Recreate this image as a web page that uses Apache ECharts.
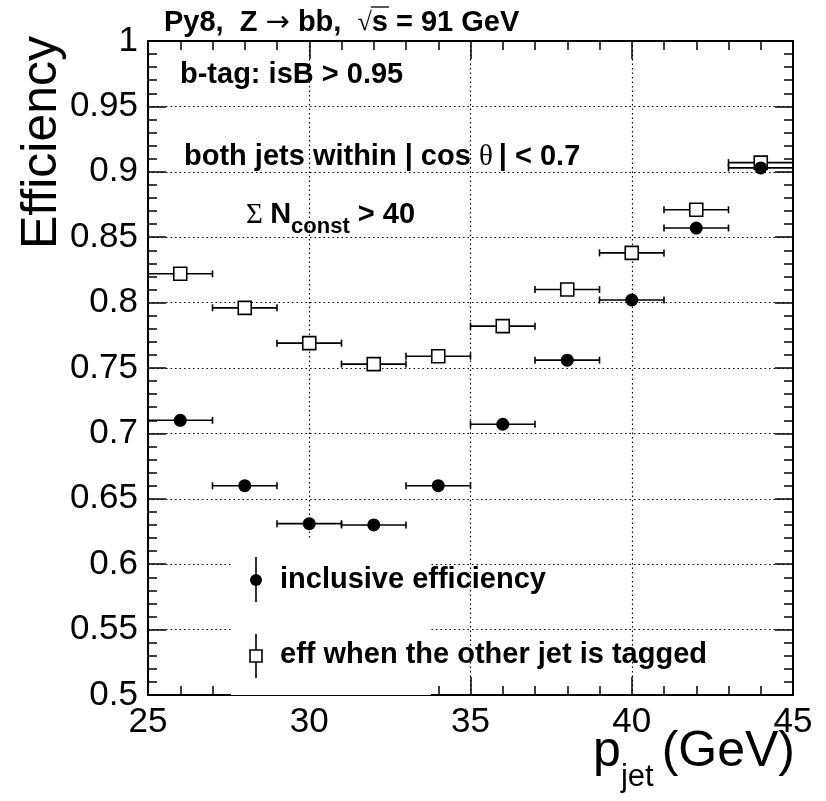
<!DOCTYPE html>
<html>
<head>
<meta charset="utf-8">
<script src="https://cdn.jsdelivr.net/npm/echarts@6/dist/echarts.min.js"></script>
<style>html,body{margin:0;padding:0;background:#fff}#chart{width:826px;height:801px}</style>
</head>
<body>
<div id="chart"></div>
<script>
// ---- data ----
const binCenters = [26, 28, 30, 32, 34, 36, 38, 40, 42, 44];
const binHalfWidth = [1, 1, 1, 1, 1, 1, 1, 1, 1, 1];
const inclusiveEff = [0.710, 0.660, 0.631, 0.630, 0.660, 0.707, 0.756, 0.802, 0.857, 0.903];
const otherTaggedEff = [0.822, 0.796, 0.769, 0.753, 0.759, 0.782, 0.810, 0.838, 0.871, 0.907];
const xTickLabels = ['25', '30', '35', '40', '45'];
const yTickLabels = ['0.5', '0.55', '0.6', '0.65', '0.7', '0.75', '0.8', '0.85', '0.9', '0.95', '1'];
const seriesNames = ['inclusive efficiency', 'eff when the other jet is tagged'];

const SANS = '"Liberation Sans", Arial, Helvetica, sans-serif';
const SERIF = '"Liberation Serif", "DejaVu Serif", serif';

const mctx = document.createElement('canvas').getContext('2d');
function tw(p) {
  mctx.font = (p.weight || 'bold') + ' ' + p.size + 'px ' + (p.family || SANS);
  return mctx.measureText(p.text).width;
}
// place text fragments sequentially
function seq(x, y, parts, align) {
  let total = 0;
  parts.forEach(p => { p.w = tw(p) + (p.gap || 0); total += p.w; });
  let cx = align === 'right' ? x - total : x;
  const els = [];
  parts.forEach(p => {
    els.push({
      type: 'text', z: 10, x: cx, y: y + (p.dy || 0),
      style: {
        text: p.text, fontSize: p.size, fontWeight: p.weight || 'bold', fontFamily: p.family || SANS,
        fill: '#000', textAlign: 'left', textVerticalAlign: 'middle', align: 'left', verticalAlign: 'middle'
      }
    });
    p.x0 = cx;
    cx += p.w;
  });
  return els;
}

const errData = (xs, ys) => xs.map((x, i) => [x, ys[i], binHalfWidth[i]]);
function errRender(params, api) {
  const x = api.value(0), y = api.value(1), e = api.value(2);
  const p1 = api.coord([x - e, y]), p2 = api.coord([x + e, y]);
  const st = { stroke: '#000', lineWidth: 1.6 };
  return {
    type: 'group', children: [
      { type: 'line', shape: { x1: p1[0], y1: p1[1], x2: p2[0], y2: p2[1] }, style: st },
      { type: 'line', shape: { x1: p1[0], y1: p1[1] - 3.5, x2: p1[0], y2: p1[1] + 3.5 }, style: st },
      { type: 'line', shape: { x1: p2[0], y1: p2[1] - 3.5, x2: p2[0], y2: p2[1] + 3.5 }, style: st }
    ]
  };
}

const chart = echarts.init(document.getElementById('chart'), null, { renderer: 'canvas' });

const axisCommon = {
  type: 'value',
  axisLine: { show: true, onZero: false, lineStyle: { color: '#000', width: 2 } },
  axisTick: { show: true, inside: true, length: 18, lineStyle: { color: '#000', width: 1.5 } },
  minorTick: { show: true, splitNumber: 5, length: 9, lineStyle: { color: '#000', width: 1.5 } },
  minorSplitLine: { show: false }
};
const gridLine = { show: true, lineStyle: { color: '#000', width: 1.2, type: [1.5, 3] } };

const TS = 29; // annotation text size
const graphics = [];
// legend box (covers grid lines like the ROOT TLegend)
graphics.push({ type: 'rect', z: 1, shape: { x: 231, y: 540, width: 200, height: 155 }, style: { fill: '#fff' } });
// title
const titleParts = [
  { text: 'Py8,  Z ', size: 29 },
  { text: '\u2192', size: 29, weight: 'normal', family: '"DejaVu Sans", sans-serif' },
  { text: ' bb,  ', size: 29 },
  { text: '\u221A', size: 26, weight: 'normal', family: SERIF },
  { text: 's', size: 29 },
  { text: ' = 91 GeV', size: 29 }
];
graphics.push(...seq(164, 23, titleParts));
{
  const r = titleParts[3], s = titleParts[4];
  graphics.push({ type: 'line', z: 10, shape: { x1: r.x0 + r.w - 1, y1: 7, x2: s.x0 + s.w + 1, y2: 7 }, style: { stroke: '#000', lineWidth: 1.3 } });
}
graphics.push(...seq(180, 75, [{ text: 'b-tag: isB > 0.95', size: TS }]));
graphics.push(...seq(184, 157, [
  { text: 'both jets within | cos ', size: TS },
  { text: '\u03B8', size: TS, weight: 'normal', family: SERIF, gap: 6 },
  { text: '| < 0.7', size: TS }
]));
graphics.push(...seq(246, 215, [
  { text: '\u03A3 ', size: TS, weight: 'normal', family: SERIF },
  { text: 'N', size: TS },
  { text: 'const', size: 22, dy: 12 },
  { text: ' > 40', size: TS }
]));
// legend
graphics.push({ type: 'line', z: 10, shape: { x1: 256, y1: 557, x2: 256, y2: 602 }, style: { stroke: '#000', lineWidth: 1.6 } });
graphics.push({ type: 'circle', z: 10, shape: { cx: 256, cy: 580, r: 6 }, style: { fill: '#000' } });
graphics.push({ type: 'line', z: 10, shape: { x1: 256, y1: 634, x2: 256, y2: 678 }, style: { stroke: '#000', lineWidth: 1.6 } });
graphics.push({ type: 'rect', z: 10, shape: { x: 250, y: 650, width: 12, height: 12 }, style: { fill: '#fff', stroke: '#000', lineWidth: 1.6 } });
graphics.push(...seq(280, 580, [{ text: seriesNames[0], size: TS }]));
graphics.push(...seq(280, 655, [{ text: seriesNames[1], size: TS }]));
// axis titles
graphics.push({
  type: 'text', z: 10, x: 42, y: 36, rotation: Math.PI / 2,
  style: { text: 'Efficiency', fontSize: 50, fontFamily: SANS, fill: '#000', textAlign: 'right', textVerticalAlign: 'middle', align: 'right', verticalAlign: 'middle' }
});
graphics.push(...seq(795, 752, [
  { text: 'p', size: 50, weight: 'normal' },
  { text: 'jet', size: 31, weight: 'normal', dy: 25, gap: 8 },
  { text: '(GeV)', size: 50, weight: 'normal' }
], 'right'));

const option = {
  animation: false,
  backgroundColor: '#fff',
  grid: { left: 148, right: 33, top: 41, bottom: 106, containLabel: false },
  xAxis: [
    Object.assign({}, axisCommon, {
      position: 'bottom', min: 25, max: 45, interval: 5,
      splitLine: gridLine,
      axisLabel: { show: true, fontSize: 35, fontFamily: SANS, color: '#000', margin: 10,
        formatter: v => xTickLabels[Math.round((v - 25) / 5)] }
    }),
    Object.assign({}, axisCommon, {
      position: 'top', min: 25, max: 45, interval: 5,
      splitLine: { show: false }, axisLabel: { show: false }
    })
  ],
  yAxis: [
    Object.assign({}, axisCommon, {
      position: 'left', min: 0.5, max: 1, interval: 0.05,
      splitLine: gridLine,
      axisLabel: { show: true, fontSize: 35, fontFamily: SANS, color: '#000', margin: 10,
        formatter: v => yTickLabels[Math.round((v - 0.5) / 0.05)] }
    }),
    Object.assign({}, axisCommon, {
      position: 'right', min: 0.5, max: 1, interval: 0.05,
      splitLine: { show: false }, axisLabel: { show: false }
    })
  ],
  series: [
    { type: 'custom', name: seriesNames[1] + ' err', renderItem: errRender, data: errData(binCenters, otherTaggedEff), z: 3, silent: true },
    { type: 'scatter', name: seriesNames[1], data: binCenters.map((x, i) => [x, otherTaggedEff[i]]), symbol: 'rect', symbolSize: 13,
      itemStyle: { color: '#fff', borderColor: '#000', borderWidth: 1.6, opacity: 1 }, z: 4 },
    { type: 'custom', name: seriesNames[0] + ' err', renderItem: errRender, data: errData(binCenters, inclusiveEff), z: 5, silent: true },
    { type: 'scatter', name: seriesNames[0], data: binCenters.map((x, i) => [x, inclusiveEff[i]]), symbol: 'circle', symbolSize: 13,
      itemStyle: { color: '#000', opacity: 1 }, z: 6 }
  ],
  graphic: { elements: graphics }
};
chart.setOption(option);
</script>
</body>
</html>
